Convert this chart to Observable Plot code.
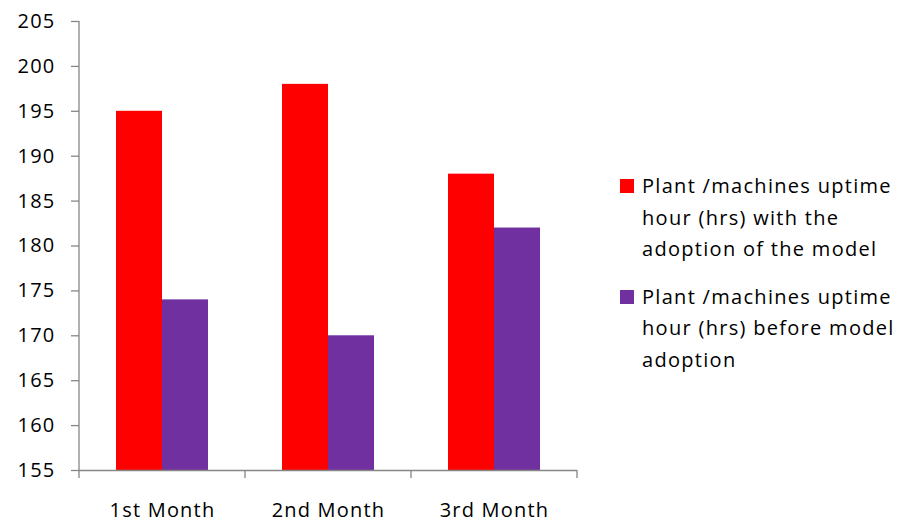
<!DOCTYPE html>
<html>
<head>
<meta charset="utf-8">
<script src="https://cdn.jsdelivr.net/npm/d3@7"></script>
<script src="https://cdn.jsdelivr.net/npm/@observablehq/plot@0.6"></script>
<style>
  body { margin: 0; background: #fff; }
  #wrap { position: relative; width: 901px; height: 523px; font-family: "Open Sans", sans-serif; }
  #legend { position: absolute; left: 620px; top: 170px; font-size: 20px; letter-spacing: 1.3px; color: #000; }
  .item { display: flex; align-items: flex-start; margin-bottom: 16px; }
  .sw { width: 14px; height: 14px; margin-top: 9px; margin-right: 8px; flex: none; }
  .lbl { line-height: 31.5px; white-space: nowrap; }
  svg text { letter-spacing: 1.2px; }
</style>
</head>
<body>
<div id="wrap"><div id="legend"></div></div>
<script>
const months = ["1st Month", "2nd Month", "3rd Month"];
const seriesNames = [
  "Plant /machines uptime hour (hrs) with the adoption of the model",
  "Plant /machines uptime hour (hrs) before model adoption"
];
const legendLines = [
  ["Plant /machines uptime", "hour (hrs) with the", "adoption of the model"],
  ["Plant /machines uptime", "hour (hrs) before model", "adoption"]
];
const withModel = [195, 198, 188];
const beforeModel = [174, 170, 182];
const colors = ["#FF0000", "#7030A0"];
const yTicks = [155, 160, 165, 170, 175, 180, 185, 190, 195, 200, 205];

const data = [];
months.forEach((m, i) => {
  data.push({month: m, series: seriesNames[0], value: withModel[i]});
  data.push({month: m, series: seriesNames[1], value: beforeModel[i]});
});

const axisColor = "#868686";
const plot = Plot.plot({
  width: 901,
  height: 523,
  marginLeft: 78,
  marginRight: 323,
  marginTop: 21,
  marginBottom: 53,
  style: {fontFamily: "'Open Sans', sans-serif", fontSize: "20px", color: "#000", background: "#fff"},
  fx: {domain: months, padding: 0, label: null, axis: "bottom", tickSize: 0, tickPadding: 32},
  x: {domain: seriesNames, paddingInner: 0, paddingOuter: 0.78, axis: null},
  y: {domain: [155, 205], ticks: yTicks, label: null, tickSize: 8, tickPadding: 16},
  color: {domain: seriesNames, range: colors},
  marks: [
    Plot.barY(data, {fx: "month", x: "series", y1: 155, y2: "value", fill: "series"}),
    Plot.ruleY([155], {stroke: axisColor, strokeWidth: 1.3})
  ]
});
document.getElementById("wrap").prepend(plot);

// y axis line & tick colour, boundary ticks on the category axis
const svg = d3.select(plot);
svg.selectAll("[aria-label='y-axis tick'] path").attr("stroke", axisColor).attr("stroke-width", 1.3);
const fx = plot.scale("fx");
const y = plot.scale("y");
const x0 = fx.apply(months[0]);
const step = fx.step ?? fx.bandwidth;
const yb = y.apply(155), yt = y.apply(205);
const g = svg.append("g").attr("stroke", axisColor).attr("stroke-width", 1.3);
g.append("line").attr("x1", x0).attr("x2", x0).attr("y1", yt).attr("y2", yb);
for (let i = 0; i <= months.length; i++) {
  const xx = x0 + i * step;
  g.append("line").attr("x1", xx).attr("x2", xx).attr("y1", yb).attr("y2", yb + 8);
}

const legend = d3.select("#legend");
legendLines.forEach((lines, i) => {
  const it = legend.append("div").attr("class", "item");
  it.append("div").attr("class", "sw").style("background", colors[i]);
  it.append("div").attr("class", "lbl").html(lines.join("<br>"));
});
</script>
</body>
</html>
